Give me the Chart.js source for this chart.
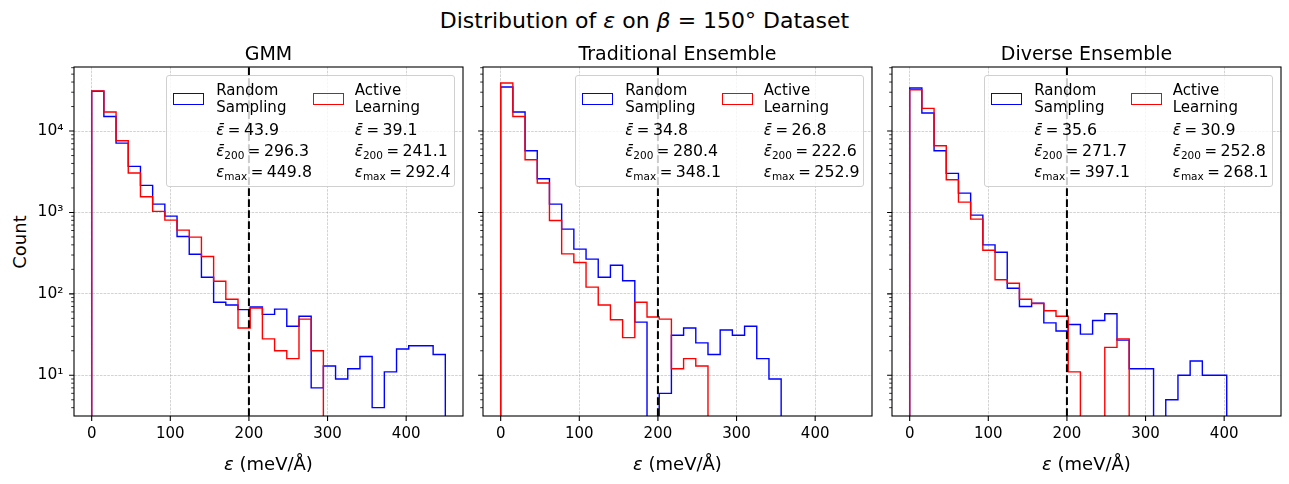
<!DOCTYPE html>
<html lang="en">
<head>
    <meta charset="UTF-8">
    <title>Distribution of ε on β = 150° Dataset</title>
    <script src="https://cdn.jsdelivr.net/npm/chart.js"></script>
    <style>
        body {
            margin: 0;
            background: #fff;
            font-family: 'DejaVu Sans', sans-serif;
            color: #000;
        }

        #fig {
            position: relative;
            width: 1289px;
            height: 484px;
            overflow: hidden;
        }

        .panel {
            position: absolute;
            top: 0;
            width: 470px;
            height: 484px;
        }

        .txt {
            position: absolute;
            white-space: nowrap;
            line-height: 1;
        }

        .suptitle {
            left: 0;
            width: 1289px;
            text-align: center;
            font-size: 22px;
            top: 9.7px;
        }

        .subtitle {
            width: 389px;
            text-align: center;
            font-size: 19px;
            top: 43.9px;
        }

        .xlabel {
            width: 389px;
            text-align: center;
            font-size: 18px;
            top: 455.3px;
        }

        .ylabel {
            left: -155px;
            top: 232.5px;
            width: 349px;
            height: 18px;
            text-align: center;
            font-size: 18px;
            transform: rotate(-90deg);
        }

        .legend {
            position: absolute;
            top: 75px;
            width: 288.5px;
            height: 111.7px;
            box-sizing: border-box;
            background: rgba(255, 255, 255, 0.8);
            border: 1px solid #d0d0d0;
            border-radius: 3px;
            font-size: 15px;
        }

        .legend .patch {
            position: absolute;
            top: 17.3px;
            width: 31.4px;
            height: 11.4px;
            box-sizing: border-box;
            border: 1.4px solid;
        }

        .legend .line {
            position: absolute;
            white-space: nowrap;
            line-height: 16px;
            height: 16px;
        }

        .eq {
            margin: 0 3.5px;
        }

        .num {
            font-size: 15.8px;
        }

        .sub {
            font-size: 10.5px;
            position: relative;
            top: 3px;
        }
    </style>
</head>
<body>
<div id="fig">
    <div class="txt suptitle">Distribution of <i>ε</i> on <i>β</i> = 150° Dataset</div>
    <div class="txt ylabel">Count</div>
</div>

<script>
    // panel titles and series
    const methods = ['GMM', 'Traditional Ensemble', 'Diverse Ensemble'];
    const seriesNames = [['Random', 'Sampling'], ['Active', 'Learning']];
    const seriesColors = ['#0000ff', '#ff0000'];

    // histogram counts per bin (shared bins, 29 bins over 0..449.8)
    const binWidth = 449.8 / 29;
    const gmmRandom = [30760, 15100, 7110, 3680, 2150, 1265, 901, 507, 307, 160, 79, 73, 64, 69, 56, 65, 40, 53, 7, 13, 9, 12, 17, 4, 11, 21, 23, 23, 18];
    const gmmActive = [31000, 17150, 7600, 3050, 1560, 1030, 805, 607, 498, 288, 143, 86, 38, 67, 28, 20, 16, 49, 20];
    const teRandom = [34750, 17150, 5730, 2590, 1265, 624, 354, 267, 160, 225, 145, 45, 0, 6, 31, 38, 25, 18, 36, 31, 40, 16, 9];
    const teActive = [38900, 15100, 4440, 2300, 798, 310, 243, 121, 73, 48, 29, 79, 52, 49, 12, 16, 13];
    const deRandom = [33800, 16630, 5730, 3020, 1730, 927, 400, 325, 117, 70, 77, 44, 35, 42, 32, 47, 57, 27, 12, 12, 0, 5, 10, 15, 10, 10];
    const deActive = [32200, 19000, 6600, 2520, 1340, 828, 344, 149, 135, 86, 76, 62, 53, 11, 0, 0, 22, 28];

    // legend statistics [random, active]
    const meanErr = [[43.9, 39.1], [34.8, 26.8], [35.6, 30.9]];
    const mean200 = [[296.3, 241.1], [280.4, 222.6], [271.7, 252.8]];
    const maxErr = [[449.8, 292.4], [348.1, 252.9], [397.1, 268.1]];

    const cutoff = 200;
    const xTicks = [0, 100, 200, 300, 400];
    const yTicks = [10, 100, 1000, 10000];
    const yTickLabels = ['10¹', '10²', '10³', '10⁴'];
    const xMin = -22.49, xMax = 472.29;
    const yMin = 3.16, yMax = 61200;

    const counts = [[gmmRandom, gmmActive], [teRandom, teActive], [deRandom, deActive]];
    const axesLeft = [74, 483, 892];
    const AXW = 389, YAXW = 64, CANVAS_W = 470;

    // outline of a step histogram, zero bins drop below the axis
    function stepPoints(c) {
        const pts = [{x: 0, y: 1}];
        c.forEach((v, i) => {
            const y = v > 0 ? v : 1;
            pts.push({x: i * binWidth, y: y});
            pts.push({x: (i + 1) * binWidth, y: y});
        });
        pts.push({x: c.length * binWidth, y: 1});
        return pts;
    }

    const frameTicks = {
        id: 'frameTicks',
        afterDraw(chart) {
            const {ctx, chartArea: a, scales: {x, y}} = chart;
            ctx.save();
            ctx.strokeStyle = '#000';
            ctx.lineWidth = 1.1;
            ctx.strokeRect(a.left, a.top, a.right - a.left, a.bottom - a.top);
            ctx.beginPath();
            xTicks.forEach(v => {
                const px = x.getPixelForValue(v);
                ctx.moveTo(px, a.bottom);
                ctx.lineTo(px, a.bottom + 4.9);
            });
            yTicks.forEach(v => {
                const py = y.getPixelForValue(v);
                ctx.moveTo(a.left, py);
                ctx.lineTo(a.left - 4.9, py);
            });
            ctx.stroke();
            ctx.lineWidth = 0.8;
            ctx.beginPath();
            for (let d = 1; d <= 10000; d *= 10) {
                for (let k = 2; k <= 9; k++) {
                    const v = k * d;
                    if (v < yMin || v > yMax) continue;
                    const py = y.getPixelForValue(v);
                    ctx.moveTo(a.left, py);
                    ctx.lineTo(a.left - 2.8, py);
                }
            }
            ctx.stroke();
            ctx.restore();
        }
    };

    Chart.defaults.font.family = "'DejaVu Sans', sans-serif";
    Chart.defaults.color = '#000';

    const gridOpts = {color: 'rgba(150,150,150,0.6)', lineWidth: 0.7, drawTicks: false};
    const fig = document.getElementById('fig');

    methods.forEach((name, i) => {
        const panel = document.createElement('div');
        panel.className = 'panel';
        panel.style.left = (axesLeft[i] - YAXW) + 'px';
        panel.innerHTML = '<canvas width="' + CANVAS_W + '" height="484"></canvas>';
        fig.appendChild(panel);

        new Chart(panel.querySelector('canvas'), {
            type: 'line',
            data: {
                datasets: [
                    {label: 'Random Sampling', data: stepPoints(counts[i][0]), borderColor: seriesColors[0], borderWidth: 1.4, order: 2},
                    {label: 'Active Learning', data: stepPoints(counts[i][1]), borderColor: seriesColors[1], borderWidth: 1.4, order: 1},
                    {label: 'cutoff', data: [{x: cutoff, y: yMin}, {x: cutoff, y: yMax}], borderColor: '#000', borderWidth: 2, borderDash: [7.7, 3.3], order: 0}
                ]
            },
            options: {
                responsive: false,
                animation: false,
                elements: {point: {radius: 0}, line: {tension: 0}},
                layout: {padding: {left: 0, right: CANVAS_W - YAXW - AXW, top: 67, bottom: 28}},
                plugins: {legend: {display: false}, tooltip: {enabled: false}},
                scales: {
                    x: {
                        type: 'linear',
                        min: xMin,
                        max: xMax,
                        afterBuildTicks: s => { s.ticks = xTicks.map(v => ({value: v})); },
                        afterFit: s => { s.height = 40; },
                        grid: gridOpts,
                        border: {display: false, dash: [2.6, 1.1]},
                        ticks: {font: {size: 15}, padding: 9, maxRotation: 0, callback: v => String(v)}
                    },
                    y: {
                        type: 'logarithmic',
                        min: yMin,
                        max: yMax,
                        afterBuildTicks: s => { s.ticks = yTicks.map(v => ({value: v})); },
                        afterFit: s => { s.width = YAXW; },
                        grid: gridOpts,
                        border: {display: false, dash: [2.6, 1.1]},
                        ticks: {
                            display: i === 0,
                            font: {size: 15.5},
                            padding: 10.5,
                            callback: v => yTickLabels[yTicks.indexOf(v)] || ''
                        }
                    }
                }
            },
            plugins: [frameTicks]
        });

        // titles
        const t = document.createElement('div');
        t.className = 'txt subtitle';
        t.style.left = axesLeft[i] + 'px';
        t.textContent = name;
        fig.appendChild(t);

        const xl = document.createElement('div');
        xl.className = 'txt xlabel';
        xl.style.left = axesLeft[i] + 'px';
        xl.innerHTML = '<i>ε</i> (meV/Å)';
        fig.appendChild(xl);

        // legend
        const lg = document.createElement('div');
        lg.className = 'legend';
        lg.style.left = (axesLeft[i] + AXW - 8.3 - 288.5) + 'px';
        const patchX = [5.6, 145.6], textX = [49, 187.6];
        const baselines = [19.3, 35.7, 59, 80, 101];
        let html = '';
        [0, 1].forEach(k => {
            html += '<div class="patch" style="left:' + patchX[k] + 'px;border-color:' + seriesColors[k] + '"></div>';
            const lines = [
                seriesNames[k][0],
                seriesNames[k][1],
                '<i>ε̄</i><span class="eq">=</span><span class="num">' + meanErr[i][k].toFixed(1) + '</span>',
                '<i>ε̄</i><span class="sub">200</span><span class="eq">=</span><span class="num">' + mean200[i][k].toFixed(1) + '</span>',
                '<i>ε</i><span class="sub">max</span><span class="eq">=</span><span class="num">' + maxErr[i][k].toFixed(1) + '</span>'
            ];
            lines.forEach((s, j) => {
                html += '<div class="line" style="left:' + textX[k] + 'px;top:' + (baselines[j] - 13.2) + 'px">' + s + '</div>';
            });
        });
        lg.innerHTML = html;
        fig.appendChild(lg);
    });
</script>
</body>
</html>
